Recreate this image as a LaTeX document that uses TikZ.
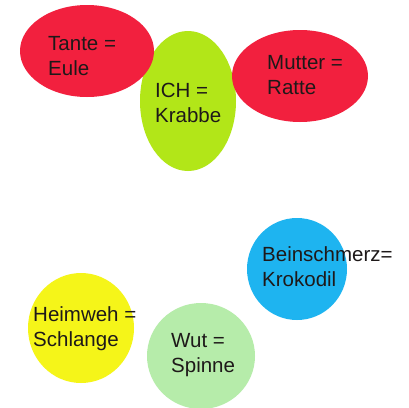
\documentclass[tikz,border=0pt]{standalone}
\usepackage{fontspec}
\setmainfont{Liberation Sans}
\usetikzlibrary{shapes.geometric}
\definecolor{cred}{RGB}{242,32,62}
\definecolor{clime}{RGB}{178,230,24}
\definecolor{cblue}{RGB}{30,180,240}
\definecolor{cyel}{RGB}{245,245,25}
\definecolor{cpale}{RGB}{182,236,170}
\definecolor{ctext}{RGB}{30,25,25}
\tikzset{
  blob/.style={ellipse, inner sep=0pt, draw=none},
  lbl/.style={anchor=base west, inner sep=0pt, align=left, text=ctext,
    font=\fontsize{20.5}{25}\selectfont}
}
\begin{document}
\begin{tikzpicture}[x=1pt,y=-1pt]
\useasboundingbox (0,0) rectangle (409,407);
\clip (0,0) rectangle (409,407);
\fill[white] (0,0) rectangle (409,407);
% shapes
\node[blob, fill=clime, minimum width=96pt, minimum height=140pt] (ich) at (188,101) {};
\node[blob, fill=cred, minimum width=134pt, minimum height=92pt] (tante) at (87,51) {};
\node[blob, fill=cred, minimum width=136pt, minimum height=92pt] (mutter) at (300,76) {};
\node[blob, fill=cblue, minimum width=100pt, minimum height=102pt] (bein) at (297,269) {};
\node[blob, fill=cyel, minimum width=106pt, minimum height=110pt] (heim) at (81,328) {};
\node[blob, fill=cpale, minimum width=108pt, minimum height=106pt] (wut) at (201,356) {};
% texts (anchored at the baseline of the last line)
\node[lbl] (ttante) at (48,75) {Tante =\\Eule};
\node[lbl] (tich) at (155,122) {ICH =\\Krabbe};
\node[lbl] (tmutter) at (267,94) {Mutter =\\Ratte};
\node[lbl] (tbein) at (262,286) {Beinschmerz=\\Krokodil};
\node[lbl] (theim) at (33,346) {Heimweh =\\Schlange};
\node[lbl] (twut) at (171,372) {Wut =\\Spinne};
\end{tikzpicture}
\end{document}
